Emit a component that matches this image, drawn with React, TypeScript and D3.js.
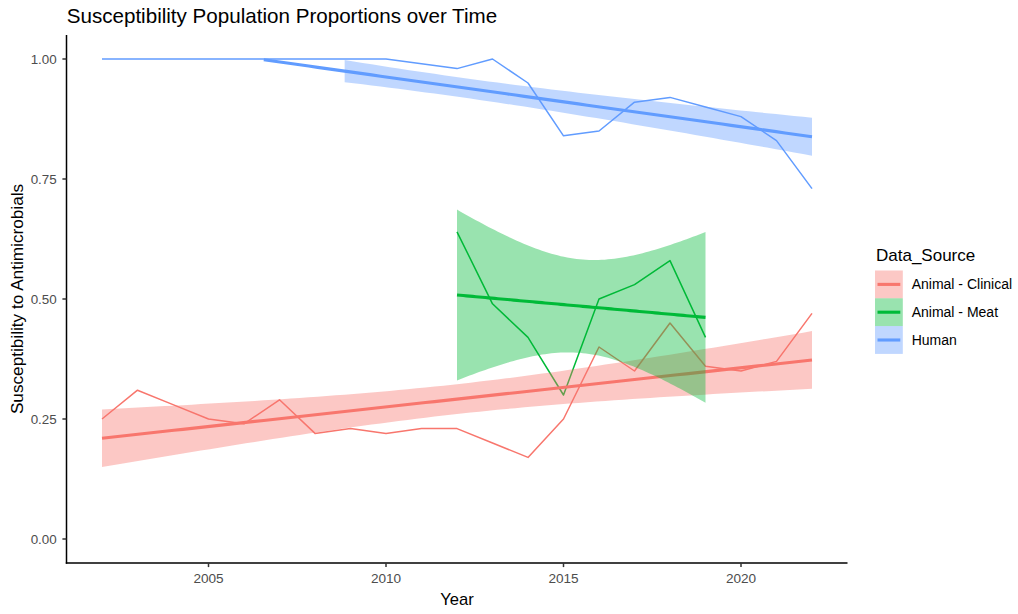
import React from "react";
import * as d3 from "d3";

// ---- data -------------------------------------------------------------
const sources = ["Animal - Clinical", "Animal - Meat", "Human"];
const colors = ["#F8766D", "#00BA38", "#619CFF"];

const clinicalYears = d3.range(2002, 2023);
const clinicalValues = [
  0.25, 0.31, 0.28, 0.25, 0.24, 0.29, 0.22, 0.23, 0.22, 0.23, 0.23,
  0.2, 0.17, 0.25, 0.4, 0.35, 0.45, 0.36, 0.35, 0.37, 0.47,
];

const meatYears = d3.range(2012, 2020);
const meatValues = [0.64, 0.49, 0.42, 0.3, 0.5, 0.53, 0.58, 0.42];

const humanYears = d3.range(2002, 2023);
const humanValues = [
  1.0, 1.0, 1.0, 1.0, 1.0, 1.0, 1.0, 1.0, 1.0, 0.99, 0.98,
  1.0, 0.95, 0.84, 0.85, 0.91, 0.92, 0.9, 0.88, 0.83, 0.73,
];

const xTicks = [2005, 2010, 2015, 2020];
const yTicks = [0, 0.25, 0.5, 0.75, 1.0];

// ---- layout -----------------------------------------------------------
const W = 1018;
const H = 614;
const panel = { left: 66.5, right: 847.5, top: 35, bottom: 563 };
const FONT = "'Liberation Sans', Arial, Helvetica, sans-serif";

// Student-t 97.5% quantile via Cornish-Fisher expansion
function tQuantile975(df: number): number {
  const z = 1.959964;
  const z3 = z ** 3, z5 = z ** 5, z7 = z ** 7, z9 = z ** 9;
  return (
    z +
    (z3 + z) / (4 * df) +
    (5 * z5 + 16 * z3 + 3 * z) / (96 * df ** 2) +
    (3 * z7 + 19 * z5 + 17 * z3 - 15 * z) / (384 * df ** 3) +
    (79 * z9 + 776 * z7 + 1482 * z5 - 1920 * z3 - 945 * z) / (92160 * df ** 4)
  );
}

type FitPt = { x: number; y: number; lo: number; hi: number };

// Linear model with 95% confidence band, evaluated on 80 points
function lmFit(xs: number[], ys: number[]): FitPt[] {
  const n = xs.length;
  const mx = d3.mean(xs)!;
  const my = d3.mean(ys)!;
  let sxx = 0, sxy = 0;
  xs.forEach((x, i) => {
    sxx += (x - mx) ** 2;
    sxy += (x - mx) * (ys[i] - my);
  });
  const b = sxy / sxx;
  const a = my - b * mx;
  let ssr = 0;
  xs.forEach((x, i) => (ssr += (ys[i] - (a + b * x)) ** 2));
  const s = Math.sqrt(ssr / (n - 2));
  const t = tQuantile975(n - 2);
  const x0 = d3.min(xs)!, x1 = d3.max(xs)!;
  const pts: FitPt[] = [];
  for (let i = 0; i < 80; i++) {
    const x = x0 + ((x1 - x0) * i) / 79;
    const y = a + b * x;
    const se = s * Math.sqrt(1 / n + (x - mx) ** 2 / sxx);
    pts.push({ x, y, lo: y - t * se, hi: y + t * se });
  }
  return pts;
}

const seriesData = [
  { years: clinicalYears, values: clinicalValues },
  { years: meatYears, values: meatValues },
  { years: humanYears, values: humanValues },
];

export default function App() {
  const x = d3.scaleLinear().domain([2001, 2023]).range([panel.left, panel.right]);
  const y = d3.scaleLinear().domain([-0.05, 1.05]).range([panel.bottom, panel.top]);
  const inLim = (v: number) => v >= 0 && v <= 1;

  const rawLine = d3
    .line<[number, number]>()
    .x((d) => x(d[0]))
    .y((d) => y(d[1]));

  const fitLine = d3
    .line<FitPt>()
    .defined((d) => inLim(d.y))
    .x((d) => x(d.x))
    .y((d) => y(d.y));

  const fitArea = d3
    .area<FitPt>()
    .defined((d) => inLim(d.lo) && inLim(d.hi))
    .x((d) => x(d.x))
    .y0((d) => y(d.lo))
    .y1((d) => y(d.hi));

  const fits = seriesData.map((s) => lmFit(s.years, s.values));

  const legendX = 875;
  const legendTop = 270.5;
  const keySize = 27.8;

  return (
    <svg width={W} height={H} style={{ position: "absolute", left: 0, top: 0 }} fontFamily={FONT}>
      <rect width={W} height={H} fill="#fff" />

      {/* title */}
      <text x={66.7} y={23.3} fontSize={20.6} fill="#000">
        Susceptibility Population Proportions over Time
      </text>

      {/* raw series */}
      {seriesData.map((s, i) => (
        <path
          key={`raw-${i}`}
          d={rawLine(s.years.map((yr, j) => [yr, s.values[j]] as [number, number]))!}
          fill="none"
          stroke={colors[i]}
          strokeWidth={1.5}
          strokeLinejoin="round"
        />
      ))}

      {/* smoothers: band then fitted line per group */}
      {fits.map((f, i) => (
        <g key={`fit-${i}`}>
          <path d={fitArea(f)!} fill={colors[i]} fillOpacity={0.4} stroke="none" />
          <path d={fitLine(f)!} fill="none" stroke={colors[i]} strokeWidth={3.1} />
        </g>
      ))}

      {/* axes */}
      <line x1={panel.left} x2={panel.left} y1={panel.top} y2={panel.bottom + 0.7} stroke="#000" strokeWidth={1.5} />
      <line x1={panel.left - 0.7} x2={panel.right} y1={panel.bottom} y2={panel.bottom} stroke="#000" strokeWidth={1.5} />

      {yTicks.map((t) => (
        <g key={`yt-${t}`}>
          <line x1={panel.left - 4.1} x2={panel.left} y1={y(t)} y2={y(t)} stroke="#333" strokeWidth={1.5} />
          <text x={56.7} y={y(t)} dy="0.35em" textAnchor="end" fontSize={13.4} fill="#4d4d4d">
            {d3.format(".2f")(t)}
          </text>
        </g>
      ))}
      {xTicks.map((t) => (
        <g key={`xt-${t}`}>
          <line x1={x(t)} x2={x(t)} y1={panel.bottom} y2={panel.bottom + 4.1} stroke="#333" strokeWidth={1.5} />
          <text x={x(t)} y={582.8} textAnchor="middle" fontSize={13.6} fill="#4d4d4d">
            {t}
          </text>
        </g>
      ))}

      {/* axis titles */}
      <text x={(panel.left + panel.right) / 2} y={605} textAnchor="middle" fontSize={16.6} fill="#000">
        Year
      </text>
      <text
        transform={`translate(23,${(panel.top + panel.bottom) / 2}) rotate(-90)`}
        textAnchor="middle"
        fontSize={17.2}
        fill="#000"
      >
        Susceptibility to Antimicrobials
      </text>

      {/* legend */}
      <text x={876} y={260.7} fontSize={17} fill="#000">
        Data_Source
      </text>
      {sources.map((name, i) => {
        const top = legendTop + i * keySize;
        const cy = top + keySize / 2;
        return (
          <g key={`lg-${i}`}>
            <rect x={legendX} y={top} width={keySize} height={keySize} fill={colors[i]} fillOpacity={0.4} />
            <line x1={legendX + 2.5} x2={legendX + keySize - 2.5} y1={cy} y2={cy} stroke={colors[i]} strokeWidth={3.1} />
            <text x={911.7} y={cy} dy="0.35em" fontSize={14} fill="#000">
              {name}
            </text>
          </g>
        );
      })}
    </svg>
  );
}
